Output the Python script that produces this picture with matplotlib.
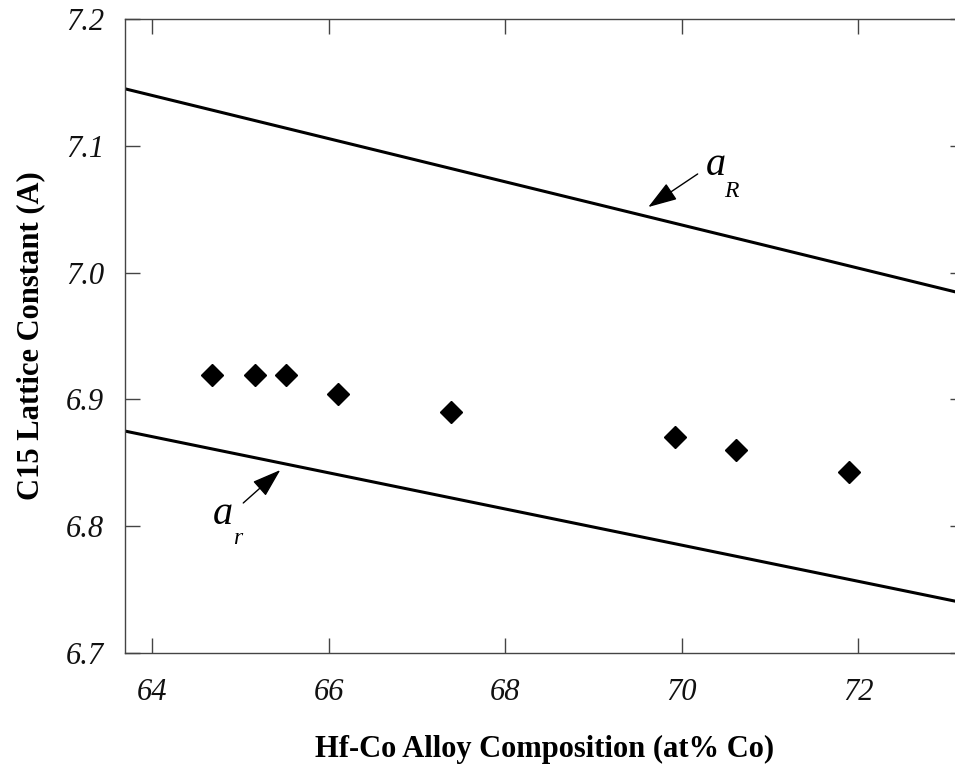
import matplotlib.pyplot as plt
import numpy as np

# Data
co_pct = [64.68, 65.16, 65.51, 66.10, 67.38, 69.92, 70.61, 71.90]
lattice = [6.919, 6.919, 6.919, 6.904, 6.890, 6.870, 6.860, 6.843]

# model lines (end points)
line_x = [63.6, 73.3]
aR_y = [7.1465, 6.9814]
ar_y = [6.8763, 6.7380]

x_ticks = [64, 66, 68, 70, 72]
y_ticks = [6.7, 6.8, 6.9, 7.0, 7.1, 7.2]

plt.rcParams['font.family'] = ['Liberation Serif', 'DejaVu Serif']


def plot_lattice():
    fig = plt.figure(figsize=(9.55, 7.64), dpi=100)
    ax = fig.add_axes([0.1309, 0.1453, 0.8796, 0.8298])

    ax.plot(line_x, aR_y, color='black', lw=2.2)
    ax.plot(line_x, ar_y, color='black', lw=2.2)
    ax.plot(co_pct, lattice, 'D', color='black', ms=11.5, mec='black')

    ax.set_xlim(63.69, 73.21)
    ax.set_ylim(6.7, 7.2)
    ax.set_xticks(x_ticks)
    ax.set_yticks(y_ticks)
    ax.set_xticklabels([str(t) for t in x_ticks], fontstyle='italic', fontsize=22)
    ax.set_yticklabels(['%.1f' % t for t in y_ticks], fontstyle='italic', fontsize=22)
    ax.tick_params(direction='in', length=11, width=1, color='#444444',
                   top=True, right=True, labelcolor='#111111')
    ax.tick_params(axis='x', pad=18)
    ax.tick_params(axis='y', pad=15)
    for side in ['left', 'bottom', 'top']:
        ax.spines[side].set_color('#444444')
        ax.spines[side].set_linewidth(1)
    ax.spines['right'].set_visible(False)

    ax.set_xlabel('Hf-Co Alloy Composition (at% Co)', fontsize=22,
                  fontweight='bold', labelpad=20)
    ax.set_ylabel('C15 Lattice Constant (A)', fontsize=22,
                  fontweight='bold', labelpad=15)

    arrow = dict(arrowstyle='-|>,head_length=0.9,head_width=0.3',
                 color='black', lw=1, mutation_scale=20, shrinkA=0, shrinkB=0)

    # labels for the two lines
    ax.text(70.27, 7.077, 'a', fontsize=29, fontstyle='italic')
    ax.text(70.48, 7.0596, 'R', fontsize=17, fontstyle='italic')
    ax.annotate('', xy=(69.62, 7.0517), xytext=(70.18, 7.0778), arrowprops=arrow)
    ax.text(64.68, 6.8017, 'a', fontsize=29, fontstyle='italic')
    ax.text(64.915, 6.786, 'r', fontsize=17, fontstyle='italic')
    ax.annotate('', xy=(65.45, 6.8443), xytext=(65.03, 6.8183), arrowprops=arrow)

    fig.savefig('out.png', dpi=100)


if __name__ == "__main__":
    plot_lattice()
